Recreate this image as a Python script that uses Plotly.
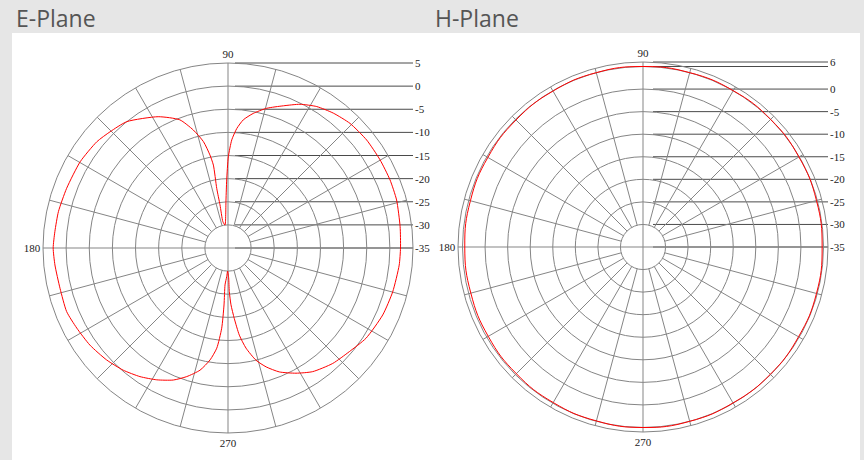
import plotly.graph_objects as go

# ---- E-plane radiation pattern (azimuth in degrees, gain in dB) ----
e_theta = [
    269.0, -88.7, -88.3, -87.0, -84.9, -82.6, -79.8, -76.0, -72.2, -67.5, -61.5,
    -55.6, -47.8, -40.5, -33.2, -23.4, -14.9, -5.7, 0.0, 7.1, 15.9, 22.8,
    30.1, 37.9, 45.6, 52.0, 57.9, 63.4, 68.7, 74.5, 79.4, 83.2, 85.8, 88.0,
    89.8, 91.1, 92.4, 97.4, 101.0, 100.5, 100.7, 100.0, 101.0, 103.0, 106.4,
    110.6, 118.0, 128.7, 135.4, 141.0, 149.7, 159.7, 167.9, 174.6, 180.0,
    185.6, 193.5, 201.5, 207.9, 215.1, 222.7, 229.4, 235.6, 241.6, 247.5,
    252.2, 257.1, 260.9, 263.6, 265.5, 266.0, 265.4, 267.4, 269.0,
]
e_gain = [
    -30.0, -28.5, -25.6, -22.7, -19.7, -16.0, -13.0, -10.0, -8.0, -6.0, -4.2,
    -2.6, -1.3, -0.5, 0.65, 1.45, 1.85, 2.2, 2.3, 2.5, 2.9, 3.0,
    3.0, 3.0, 2.7, 2.0, 1.1, -0.25, -2.0, -3.65, -5.4, -7.1, -9.1, -11.6,
    -15.3, -20.3, -24.6, -30.0, -29.2, -25.5, -21.9, -16.8, -14.5, -11.4, -8.4,
    -5.4, -2.85, 0.0, 0.8, 1.5, 2.0, 2.2, 2.5, 2.6, 2.8,
    2.6, 2.35, 2.5, 2.0, 1.5, 0.7, -0.2, -1.3, -2.6, -4.1,
    -5.8, -7.9, -10.5, -13.2, -17.6, -22.65, -27.0, -28.8, -30.0,
]

# ---- H-plane radiation pattern ----
h_theta = [0, 15, 30, 45, 60, 75, 90, 105, 120, 135, 150, 165, 180,
           195, 210, 225, 240, 255, 270, 285, 300, 315, 330, 345, 360]
h_gain = [4.7, 4.8, 4.9, 5.0, 5.0, 5.0, 5.0, 5.0, 4.9, 4.8, 4.7, 4.6, 4.5,
          4.5, 4.6, 4.7, 4.8, 4.9, 5.0, 5.0, 4.9, 4.9, 4.8, 4.8, 4.7]

# ---- grid definition ----
db_floor = -35
inner_ring = -30
e_rings = [-30, -25, -20, -15, -10, -5, 0, 5]
h_rings = [-30, -25, -20, -15, -10, -5, 0, 5, 6]
e_max, h_max = 5, 6
spoke_angles = [a for a in range(0, 360, 15) if a % 90 != 0]
angle_tickvals = [90, 180, 270]
angle_ticktext = ["90", "180", "270"]

e_scale_levels = [5, 0, -5, -10, -15, -20, -25, -30, -35]
e_scale_text = ["5", "0", "-5", "-10", "-15", "-20", "-25", "-30", "-35"]
h_scale_levels = [6, 5, 0, -5, -10, -15, -20, -25, -30, -35]
h_scale_text = ["6", "", "0", "-5", "-10", "-15", "-20", "-25", "-30", "-35"]

titles = ["E-Plane", "H-Plane"]

GRID = "#858585"
LABEL_LINE = "#4a4a4a"
CURVE = "#ff0000"
TXT = "#222222"
W, H = 864, 460

fig = go.Figure()


def add_polar(name, theta, gain, rmax, rings, center, radius, xa, ya, panel,
              levels, texts, start_gap, smoothing):
    cx, cy = center
    # polar subplot sized so its circle has the requested centre / radius
    fig.update_layout(**{name: dict(
        domain=dict(x=[(cx - radius) / W, (cx + radius) / W],
                    y=[(H - cy - radius) / H, (H - cy + radius) / H]),
        bgcolor="rgba(0,0,0,0)",
        radialaxis=dict(range=[db_floor, rmax], tickvals=rings,
                        showticklabels=False, ticks="", showline=False,
                        showgrid=True, gridcolor=GRID, gridwidth=1),
        angularaxis=dict(direction="counterclockwise", rotation=0,
                         showgrid=False, tickvals=angle_tickvals,
                         ticktext=angle_ticktext, ticks="",
                         showline=True, linecolor=GRID, linewidth=1,
                         tickfont=dict(family="Liberation Serif", size=11,
                                       color=TXT)),
    )})
    sub = name
    # radial spokes from the inner ring outwards
    sr, st = [], []
    for a in spoke_angles:
        sr += [inner_ring, rmax, None]
        st += [a, a, None]
    fig.add_trace(go.Scatterpolar(r=sr, theta=st, mode="lines", subplot=sub,
                                  line=dict(color=GRID, width=1),
                                  hoverinfo="skip", showlegend=False))
    # main axes passing through the centre
    fig.add_trace(go.Scatterpolar(
        r=[rmax, db_floor, rmax, None, rmax, db_floor, rmax],
        theta=[0, 0, 180, None, 90, 90, 270],
        mode="lines", subplot=sub, line=dict(color=GRID, width=1),
        hoverinfo="skip", showlegend=False))
    # measured pattern
    fig.add_trace(go.Scatterpolar(
        r=gain, theta=theta, mode="lines", subplot=sub,
        line=dict(color=CURVE, width=1, shape="spline", smoothing=smoothing),
        showlegend=False))

    # cartesian overlay in radius units (0 = centre) for the level scale
    k = radius / (rmax - db_floor)
    x0, x1, y0, y1 = panel
    R = rmax - db_floor
    fig.update_layout(**{
        xa.replace("x", "xaxis"): dict(domain=[x0 / W, x1 / W],
                                       range=[(x0 - cx) / k, (x1 - cx) / k],
                                       visible=False, fixedrange=True),
        ya.replace("y", "yaxis"): dict(domain=[(H - y1) / H, (H - y0) / H],
                                       range=[-(y1 - cy) / k, (cy - y0) / k],
                                       visible=False, fixedrange=True),
    })
    lx, ly = [], []
    for lv in levels:
        lx += [start_gap / k, R, None]
        ly += [lv - db_floor, lv - db_floor, None]
    fig.add_trace(go.Scatter(x=lx, y=ly, mode="lines", xaxis=xa, yaxis=ya,
                             line=dict(color=LABEL_LINE, width=1),
                             hoverinfo="skip", showlegend=False))
    for lv, t in zip(levels, texts):
        if t:
            fig.add_annotation(x=R, y=lv - db_floor, xref=xa, yref=ya, text=t,
                               showarrow=False, xanchor="left",
                               yanchor="middle", xshift=0,
                               font=dict(family="Liberation Serif", size=11,
                                         color=TXT))


add_polar("polar", e_theta, e_gain, e_max, e_rings, (228, 248), 185,
          "x", "y", (12, 440, 33, 460), e_scale_levels, e_scale_text, 7, 0.6)
add_polar("polar2", h_theta, h_gain, h_max, h_rings, (643, 247), 185,
          "x2", "y2", (440, 860, 33, 460), h_scale_levels, h_scale_text, 10,
          1.3)

for t, xpx in zip(titles, [14, 433]):
    fig.add_annotation(x=xpx / W, y=(H - 18) / H, xref="paper", yref="paper",
                       text=t, showarrow=False, xanchor="left",
                       yanchor="middle",
                       font=dict(family="Open Sans", size=23, color="#555555"))

fig.update_layout(width=W, height=H, autosize=False,
                  margin=dict(l=0, r=0, t=0, b=0, pad=0),
                  paper_bgcolor="#e6e6e6", plot_bgcolor="#ffffff")

fig.write_html("out.html")
